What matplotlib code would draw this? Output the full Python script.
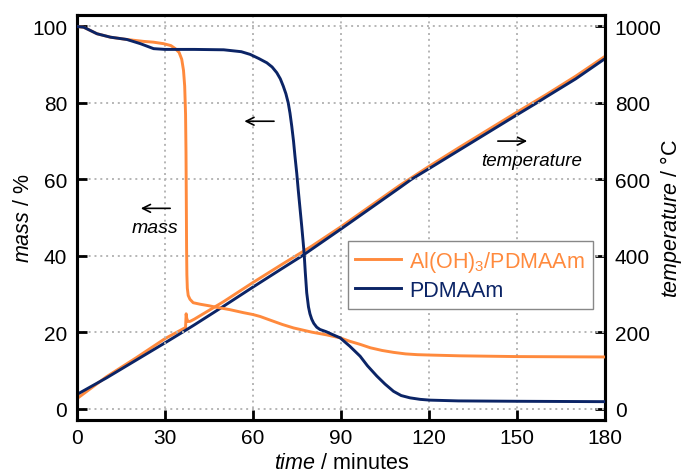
import numpy as np
import matplotlib
matplotlib.use('Agg')
import matplotlib.pyplot as plt

plt.rcParams['font.family'] = ['Liberation Sans', 'DejaVu Sans']
plt.rcParams['mathtext.fontset'] = 'custom'
plt.rcParams['mathtext.rm'] = 'Liberation Sans'
plt.rcParams['mathtext.it'] = 'Liberation Sans:italic'

#######################
# Data
#######################
# mass loss, PDMAAm
t_mass_pd = [0, 2.3, 6.8, 11.4, 17, 21.6, 26.1, 30, 40, 50, 56, 59, 62, 64.7, 66.5,
             68.1, 69.3, 70.3, 71.2, 72.0, 72.6, 73.2, 73.8, 74.3, 74.9, 75.4, 76.0,
             76.6, 77.0, 77.4, 77.8, 78.3, 78.9, 79.4, 80.0, 80.7, 81.7, 82.8, 85, 87,
             89.7, 93, 96.5, 99, 102.2, 105, 107.9, 110.5, 113.5, 117, 120.3, 130, 150,
             180]
mass_pd = [100, 99.8, 98.1, 97.2, 96.6, 95.5, 94.2, 94.0, 94.0, 93.9, 93.4, 92.7, 91.6,
           90.5, 89.4, 87.9, 86.3, 84.4, 82.4, 80.0, 77.3, 73.9, 70.0, 66.0, 61.6,
           57.3, 52.5, 47.7, 44.3, 40.8, 35.8, 30.3, 26.6, 24.8, 23.4, 22.3, 21.3,
           20.7, 20.1, 19.4, 18.5, 16.3, 13.7, 11.2, 8.5, 6.4, 4.5, 3.4, 2.8, 2.4,
           2.2, 2.0, 1.9, 1.8]

# mass loss, Al(OH)3/PDMAAm
t_mass_al = [0, 2.3, 6.8, 11.4, 17, 22.7, 26, 29.5, 32, 33.5, 34.8, 35.7, 36.3, 36.7,
             37.0, 37.15, 37.25, 37.35, 37.45, 37.6, 37.9, 38.5, 39.6, 42, 45, 47.6, 52,
             56.7, 60, 62.4, 66, 70, 73.8, 80, 85, 89.7, 93, 96.5, 100, 104, 107.9, 112,
             116, 120.3, 130.5, 150, 180]
mass_al = [100, 99.8, 98.1, 97.2, 96.6, 96.1, 95.9, 95.5, 95.0, 94.2, 93.2, 91.4, 88.5,
           84.4, 77, 67, 55, 42, 35, 31.5, 29.6, 28.6, 27.7, 27.3, 26.9, 26.5, 25.9,
           25.1, 24.6, 24.1, 23.1, 22.0, 21.1, 20.0, 19.3, 18.5, 17.6, 16.8, 15.9,
           15.2, 14.7, 14.3, 14.1, 14.0, 13.8, 13.6, 13.5]

# temperature ramp (°C)
t_temp_pd = [0, 10, 20, 30, 36, 40, 50, 60, 70, 76.8, 80, 90, 100, 110, 114, 120, 130,
             140, 150, 156.7, 160, 170, 180]
temp_pd = [37, 80, 126, 172, 200, 219, 268, 318, 367, 400, 417, 470, 524, 578, 600, 628,
           675, 722, 769, 800, 816, 863, 916]

t_temp_al = [0, 10, 20, 30, 36, 37.0, 37.2, 37.4, 37.8, 38.5, 40, 50, 60, 70, 80, 90,
             100, 110, 120, 130, 140, 150, 160, 170, 180]
temp_al = [26, 83, 132, 183, 208, 212, 248, 236, 228, 228, 234, 280, 330, 378, 425, 476,
           530, 584, 634, 682, 729, 776, 822, 870, 922]

lbl_al = r'Al(OH)$_3$/PDMAAm'
lbl_pd = 'PDMAAm'

col_al = '#FF8A3D'
col_pd = '#0B2466'

#######################
# Plot
#######################
fig = plt.figure(figsize=(6.84, 4.77), dpi=100)
ax = fig.add_axes([0.1126, 0.1174, 0.772, 0.849])
ax2 = ax.twinx()

ax.plot(t_mass_al, mass_al, color=col_al, lw=2.1, label=lbl_al, zorder=3)
ax.plot(t_mass_pd, mass_pd, color=col_pd, lw=2.1, label=lbl_pd, zorder=4)
ax2.plot(t_temp_al, temp_al, color=col_al, lw=2.1, zorder=3)
ax2.plot(t_temp_pd, temp_pd, color=col_pd, lw=2.1, zorder=4)

ax.set_xlim(0, 180)
ax.set_ylim(-3, 103)
ax2.set_ylim(-30, 1030)
ax.set_xticks(np.arange(0, 181, 30))
ax.set_yticks(np.arange(0, 101, 20))
ax2.set_yticks(np.arange(0, 1001, 200))

ax.grid(True, color='#b5b5b5', linestyle=(0, (1, 2)), lw=1.4)
ax.set_axisbelow(True)

for a in (ax, ax2):
    for s in a.spines.values():
        s.set_linewidth(2.2)
ax.tick_params(direction='in', length=7, width=2, labelsize=15, pad=7, top=False)
ax.tick_params(axis='x', pad=6)
ax2.tick_params(direction='in', length=7, width=2, labelsize=15, pad=7)

ax.set_xlabel(r'$\it{time}$ / minutes', fontsize=15.5, labelpad=3)
ax.set_ylabel(r'$\it{mass}$ / %', fontsize=15.5, va='center')
ax.yaxis.set_label_coords(-0.102, 0.5)
ax2.set_ylabel(r'$\it{temperature}$ / °C', fontsize=15.5, va='center')
ax2.yaxis.set_label_coords(1.124, 0.5)

# direction arrows
arw = dict(arrowstyle='->', color='black', lw=1.2, mutation_scale=14)
ax.annotate('', xy=(20.8, 52.4), xytext=(32.7, 52.4), arrowprops=arw)
ax.text(26.6, 47.4, 'mass', fontsize=14, style='italic', ha='center', va='center')
ax.annotate('', xy=(56.1, 75.2), xytext=(68.1, 75.2), arrowprops=arw)
ax.annotate('', xy=(154.4, 70.0), xytext=(142.5, 70.0), arrowprops=arw)
ax.text(154.8, 64.9, 'temperature', fontsize=13.5, style='italic', ha='center', va='center')

leg = ax.legend(loc='upper left', bbox_to_anchor=(0.513, 0.442), borderaxespad=0,
                fontsize=15.5, fancybox=False, edgecolor='#888888', framealpha=1,
                handlelength=2.1, handletextpad=0.4, borderpad=0.35, labelspacing=0.3)
leg.get_frame().set_linewidth(1.0)
for txt, c in zip(leg.get_texts(), [col_al, col_pd]):
    txt.set_color(c)
leg.set_zorder(10)
ax.set_zorder(ax2.get_zorder() + 1)
ax.patch.set_visible(False)

fig.savefig('out.png', dpi=100)
